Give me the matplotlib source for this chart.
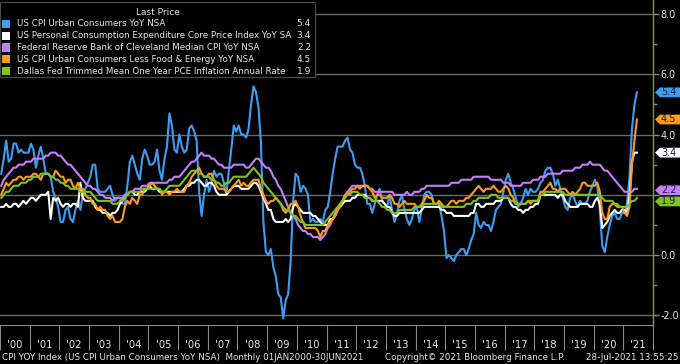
import matplotlib
matplotlib.use('Agg')
import matplotlib.pyplot as plt
import matplotlib.transforms as mtransforms
from matplotlib.patches import Rectangle, Polygon
import numpy as np
import pandas as pd

plt.rcParams['axes.unicode_minus'] = False

# ---------------- data (monthly, Jan 2000 - Jun 2021) ----------------
cpi_yoy = [
    2.7, 3.2, 3.8, 3.1, 3.2, 3.7, 3.7, 3.4, 3.5, 3.4, 3.4, 3.4,
    3.7, 3.5, 2.9, 3.3, 3.6, 3.2, 2.7, 2.7, 2.6, 2.1, 1.9, 1.6,
    1.1, 1.1, 1.5, 1.6, 1.2, 1.1, 1.5, 1.8, 1.5, 2.0, 2.2, 2.4,
    2.6, 3.0, 3.0, 2.2, 2.1, 2.1, 2.1, 2.2, 2.3, 2.0, 1.8, 1.9,
    1.9, 1.7, 1.7, 2.3, 3.1, 3.3, 3.0, 2.7, 2.5, 3.2, 3.5, 3.3,
    3.0, 3.0, 3.1, 3.5, 2.8, 2.5, 3.2, 3.6, 4.7, 4.3, 3.5, 3.4,
    4.0, 3.6, 3.4, 3.5, 4.2, 4.3, 4.1, 3.8, 2.1, 1.3, 2.0, 2.5,
    2.1, 2.4, 2.8, 2.6, 2.7, 2.7, 2.4, 2.0, 2.8, 3.5, 4.3, 4.1,
    4.3, 4.0, 4.0, 3.9, 4.2, 5.0, 5.6, 5.4, 4.9, 3.7, 1.1, 0.1,
    0.0, 0.2, -0.4, -0.7, -1.3, -1.4, -2.1, -1.5, -1.3, -0.2, 1.8, 2.7,
    2.6, 2.1, 2.3, 2.2, 2.0, 1.1, 1.2, 1.1, 1.1, 1.2, 1.1, 1.5,
    1.6, 2.1, 2.7, 3.2, 3.6, 3.6, 3.6, 3.8, 3.9, 3.5, 3.4, 3.0,
    2.9, 2.9, 2.7, 2.3, 1.7, 1.7, 1.4, 1.7, 2.0, 2.2, 1.8, 1.7,
    1.6, 2.0, 1.5, 1.1, 1.4, 1.8, 2.0, 1.5, 1.2, 1.0, 1.2, 1.5,
    1.6, 1.1, 1.5, 2.0, 2.1, 2.1, 2.0, 1.7, 1.7, 1.7, 1.3, 0.8,
    -0.1, 0.0, -0.1, -0.2, 0.0, 0.1, 0.2, 0.2, 0.0, 0.2, 0.5, 0.7,
    1.4, 1.0, 0.9, 1.1, 1.0, 1.0, 0.8, 1.1, 1.5, 1.6, 1.7, 2.1,
    2.5, 2.7, 2.4, 2.2, 1.9, 1.6, 1.7, 1.9, 2.2, 2.0, 2.2, 2.1,
    2.1, 2.2, 2.4, 2.5, 2.8, 2.9, 2.9, 2.7, 2.3, 2.5, 2.2, 1.9,
    1.6, 1.5, 1.9, 2.0, 1.8, 1.6, 1.8, 1.7, 1.7, 1.8, 2.1, 2.3,
    2.5, 2.3, 1.5, 0.3, 0.1, 0.6, 1.0, 1.3, 1.4, 1.2, 1.2, 1.4,
    1.4, 1.7, 2.6, 4.2, 5.0, 5.4,
]

core_pce_yoy = [
    1.6, 1.6, 1.7, 1.6, 1.6, 1.7, 1.7, 1.6, 1.7, 1.8, 1.7, 1.8,
    1.9, 1.9, 1.8, 1.9, 2.0, 2.0, 2.0, 2.1, 1.2, 1.9, 1.8, 1.9,
    1.7, 1.6, 1.7, 1.7, 1.6, 1.7, 1.7, 1.6, 2.4, 1.9, 1.8, 1.8,
    1.8, 1.8, 1.6, 1.5, 1.5, 1.4, 1.4, 1.4, 1.3, 1.4, 1.4, 1.5,
    1.7, 1.8, 2.0, 2.0, 2.1, 2.1, 2.0, 2.0, 2.1, 2.1, 2.1, 2.2,
    2.3, 2.2, 2.2, 2.2, 2.1, 2.1, 2.1, 2.1, 2.1, 2.1, 2.1, 2.1,
    2.1, 2.1, 2.2, 2.3, 2.3, 2.4, 2.4, 2.5, 2.5, 2.4, 2.3, 2.3,
    2.4, 2.4, 2.3, 2.1, 2.0, 2.0, 2.0, 2.0, 2.1, 2.2, 2.3, 2.3,
    2.3, 2.2, 2.2, 2.2, 2.2, 2.3, 2.4, 2.4, 2.3, 2.1, 1.9, 1.7,
    1.5, 1.5, 1.2, 1.1, 1.1, 1.1, 1.1, 1.2, 1.1, 1.2, 1.6, 1.7,
    1.6, 1.5, 1.4, 1.4, 1.4, 1.4, 1.3, 1.3, 1.2, 1.1, 1.0, 1.0,
    1.0, 1.2, 1.2, 1.3, 1.5, 1.6, 1.7, 1.8, 1.8, 1.8, 1.9, 1.9,
    2.0, 2.0, 2.0, 2.0, 1.9, 1.9, 1.8, 1.8, 1.8, 1.8, 1.8, 1.7,
    1.6, 1.6, 1.4, 1.3, 1.3, 1.4, 1.4, 1.4, 1.4, 1.4, 1.4, 1.4,
    1.4, 1.4, 1.5, 1.6, 1.6, 1.6, 1.6, 1.6, 1.6, 1.6, 1.5, 1.5,
    1.4, 1.4, 1.4, 1.3, 1.3, 1.3, 1.3, 1.3, 1.3, 1.3, 1.4, 1.4,
    1.7, 1.7, 1.6, 1.6, 1.7, 1.7, 1.7, 1.7, 1.8, 1.8, 1.8, 1.9,
    1.9, 1.9, 1.7, 1.6, 1.6, 1.5, 1.5, 1.4, 1.5, 1.5, 1.6, 1.6,
    1.7, 1.7, 2.0, 2.0, 2.0, 2.0, 2.0, 2.0, 2.0, 1.9, 2.0, 2.0,
    1.8, 1.7, 1.6, 1.6, 1.6, 1.6, 1.7, 1.7, 1.7, 1.7, 1.6, 1.6,
    1.8, 1.9, 1.7, 0.9, 1.0, 1.1, 1.3, 1.4, 1.5, 1.4, 1.4, 1.5,
    1.5, 1.4, 2.0, 3.1, 3.4, 3.4,
]

median_cpi_yoy = [
    2.3, 2.5, 2.6, 2.7, 2.8, 2.9, 2.9, 3.0, 3.0, 3.0, 3.1, 3.1,
    3.1, 3.2, 3.2, 3.2, 3.2, 3.2, 3.3, 3.3, 3.4, 3.4, 3.4, 3.3,
    3.3, 3.2, 3.1, 3.0, 3.0, 2.9, 2.8, 2.7, 2.6, 2.5, 2.4, 2.3,
    2.3, 2.2, 2.2, 2.1, 2.0, 2.0, 1.9, 1.9, 1.9, 1.8, 1.9, 1.9,
    1.9, 1.9, 2.0, 2.0, 2.1, 2.1, 2.2, 2.2, 2.2, 2.3, 2.3, 2.3,
    2.4, 2.4, 2.4, 2.4, 2.4, 2.4, 2.4, 2.4, 2.5, 2.5, 2.6, 2.6,
    2.6, 2.7, 2.8, 2.9, 3.0, 3.1, 3.1, 3.2, 3.3, 3.4, 3.3, 3.3,
    3.3, 3.2, 3.2, 3.1, 3.0, 3.0, 2.9, 2.9, 2.9, 2.9, 3.0, 3.0,
    3.0, 3.0, 3.0, 2.9, 2.9, 3.0, 3.1, 3.2, 3.2, 3.1, 3.0, 2.9,
    2.9, 2.8, 2.6, 2.5, 2.3, 2.2, 2.0, 1.8, 1.6, 1.4, 1.3, 1.2,
    1.0, 0.9, 0.8, 0.8, 0.7, 0.7, 0.6, 0.6, 0.6, 0.5, 0.6, 0.7,
    0.9, 1.0, 1.2, 1.4, 1.5, 1.7, 1.8, 2.0, 2.1, 2.2, 2.3, 2.3,
    2.3, 2.3, 2.3, 2.3, 2.3, 2.2, 2.2, 2.1, 2.1, 2.1, 2.1, 2.1,
    2.1, 2.1, 2.1, 2.0, 2.0, 2.0, 2.0, 2.0, 2.1, 2.0, 2.0, 2.1,
    2.1, 2.1, 2.2, 2.2, 2.3, 2.3, 2.3, 2.3, 2.3, 2.3, 2.3, 2.3,
    2.3, 2.3, 2.4, 2.4, 2.4, 2.4, 2.5, 2.5, 2.5, 2.5, 2.5, 2.6,
    2.6, 2.6, 2.6, 2.6, 2.6, 2.6, 2.5, 2.5, 2.5, 2.5, 2.5, 2.4,
    2.4, 2.4, 2.3, 2.3, 2.3, 2.3, 2.3, 2.4, 2.4, 2.4, 2.4, 2.5,
    2.5, 2.5, 2.6, 2.6, 2.6, 2.7, 2.7, 2.7, 2.7, 2.7, 2.7, 2.8,
    2.8, 2.8, 2.8, 2.8, 2.9, 2.9, 2.9, 3.0, 3.0, 3.0, 3.1, 3.0,
    3.0, 3.0, 3.0, 2.9, 2.8, 2.8, 2.7, 2.6, 2.5, 2.4, 2.3, 2.2,
    2.1, 2.1, 2.1, 2.1, 2.2, 2.2,
]

core_cpi_yoy = [
    2.0, 2.2, 2.4, 2.3, 2.4, 2.5, 2.5, 2.6, 2.6, 2.5, 2.6, 2.6,
    2.6, 2.7, 2.7, 2.6, 2.5, 2.7, 2.7, 2.7, 2.6, 2.6, 2.8, 2.7,
    2.6, 2.6, 2.4, 2.5, 2.5, 2.3, 2.2, 2.4, 2.2, 2.2, 2.0, 1.9,
    1.9, 1.7, 1.7, 1.5, 1.6, 1.5, 1.5, 1.3, 1.2, 1.3, 1.1, 1.1,
    1.1, 1.2, 1.6, 1.8, 1.7, 1.9, 1.8, 1.7, 2.0, 2.0, 2.2, 2.2,
    2.3, 2.4, 2.3, 2.2, 2.2, 2.0, 2.1, 2.1, 2.0, 2.1, 2.1, 2.2,
    2.1, 2.1, 2.1, 2.3, 2.4, 2.6, 2.7, 2.8, 2.9, 2.7, 2.6, 2.6,
    2.7, 2.7, 2.5, 2.3, 2.2, 2.2, 2.2, 2.1, 2.1, 2.2, 2.3, 2.4,
    2.5, 2.3, 2.4, 2.3, 2.3, 2.4, 2.5, 2.5, 2.5, 2.2, 2.0, 1.8,
    1.7, 1.8, 1.8, 1.9, 1.8, 1.7, 1.5, 1.4, 1.5, 1.7, 1.7, 1.8,
    1.6, 1.3, 1.1, 0.9, 0.9, 0.9, 0.9, 0.9, 0.8, 0.6, 0.8, 0.8,
    1.0, 1.1, 1.2, 1.3, 1.5, 1.6, 1.8, 2.0, 2.0, 2.1, 2.2, 2.2,
    2.3, 2.2, 2.3, 2.3, 2.3, 2.2, 2.1, 1.9, 2.0, 2.0, 1.9, 1.9,
    1.9, 2.0, 1.9, 1.7, 1.7, 1.6, 1.7, 1.8, 1.7, 1.7, 1.7, 1.7,
    1.6, 1.6, 1.7, 1.8, 2.0, 1.9, 1.9, 1.7, 1.7, 1.8, 1.7, 1.6,
    1.6, 1.7, 1.8, 1.8, 1.7, 1.8, 1.8, 1.8, 1.9, 1.9, 2.0, 2.1,
    2.2, 2.3, 2.2, 2.1, 2.2, 2.2, 2.2, 2.3, 2.2, 2.1, 2.1, 2.2,
    2.3, 2.2, 2.0, 1.9, 1.7, 1.7, 1.7, 1.7, 1.7, 1.8, 1.7, 1.8,
    1.8, 1.8, 2.1, 2.1, 2.2, 2.3, 2.4, 2.2, 2.2, 2.1, 2.2, 2.2,
    2.2, 2.1, 2.0, 2.1, 2.0, 2.1, 2.2, 2.4, 2.4, 2.3, 2.3, 2.3,
    2.3, 2.4, 2.1, 1.4, 1.2, 1.2, 1.6, 1.7, 1.7, 1.6, 1.6, 1.6,
    1.4, 1.3, 1.6, 3.0, 3.8, 4.5,
]

trimmed_pce_yoy = [
    1.9, 2.0, 2.1, 2.1, 2.2, 2.3, 2.3, 2.3, 2.4, 2.4, 2.4, 2.5,
    2.5, 2.6, 2.6, 2.6, 2.7, 2.7, 2.7, 2.7, 2.6, 2.6, 2.5, 2.5,
    2.4, 2.4, 2.3, 2.3, 2.2, 2.2, 2.2, 2.2, 2.1, 2.1, 2.1, 2.1,
    2.1, 2.0, 1.9, 1.8, 1.8, 1.8, 1.8, 1.8, 1.8, 1.7, 1.7, 1.7,
    1.8, 1.8, 1.9, 2.0, 2.1, 2.1, 2.1, 2.1, 2.1, 2.2, 2.2, 2.2,
    2.2, 2.2, 2.2, 2.2, 2.2, 2.1, 2.1, 2.2, 2.3, 2.3, 2.3, 2.3,
    2.3, 2.4, 2.5, 2.6, 2.7, 2.8, 2.8, 2.8, 2.7, 2.7, 2.6, 2.6,
    2.6, 2.5, 2.5, 2.4, 2.4, 2.3, 2.3, 2.4, 2.4, 2.5, 2.6, 2.6,
    2.6, 2.6, 2.6, 2.6, 2.7, 2.8, 2.9, 2.8, 2.7, 2.6, 2.4, 2.3,
    2.2, 2.1, 2.0, 1.9, 1.8, 1.7, 1.6, 1.5, 1.5, 1.4, 1.3, 1.3,
    1.2, 1.1, 1.1, 1.0, 1.0, 1.0, 1.0, 1.0, 1.0, 1.0, 1.0, 1.1,
    1.2, 1.3, 1.4, 1.5, 1.6, 1.7, 1.8, 1.9, 2.0, 2.0, 2.1, 2.1,
    2.1, 2.0, 2.0, 1.9, 1.9, 1.9, 1.8, 1.8, 1.8, 1.7, 1.6, 1.6,
    1.5, 1.5, 1.4, 1.4, 1.4, 1.5, 1.5, 1.5, 1.5, 1.5, 1.5, 1.6,
    1.6, 1.6, 1.6, 1.7, 1.7, 1.7, 1.7, 1.7, 1.7, 1.7, 1.6, 1.6,
    1.6, 1.6, 1.6, 1.6, 1.6, 1.6, 1.6, 1.6, 1.7, 1.7, 1.7, 1.8,
    1.8, 1.9, 1.9, 1.9, 1.9, 1.9, 2.0, 2.0, 2.0, 1.9, 1.9, 1.9,
    1.9, 1.9, 1.8, 1.8, 1.7, 1.7, 1.7, 1.7, 1.7, 1.8, 1.8, 1.8,
    1.8, 1.8, 2.0, 2.0, 2.1, 2.1, 2.1, 2.1, 2.1, 2.1, 2.1, 2.1,
    2.0, 2.0, 2.0, 2.0, 2.0, 2.0, 2.0, 2.0, 2.0, 2.0, 2.0, 2.0,
    2.0, 2.0, 2.0, 1.9, 1.8, 1.8, 1.8, 1.8, 1.7, 1.7, 1.6, 1.6,
    1.6, 1.6, 1.7, 1.8, 1.8, 1.9,
]

series_names = [
    "US CPI Urban Consumers YoY NSA",
    "US Personal Consumption Expenditure Core Price Index YoY SA",
    "Federal Reserve Bank of Cleveland Median CPI YoY NSA",
    "US CPI Urban Consumers Less Food & Energy YoY NSA",
    "Dallas Fed Trimmed Mean One Year PCE Inflation Annual Rate",
]
series_values = [cpi_yoy, core_pce_yoy, median_cpi_yoy, core_cpi_yoy, trimmed_pce_yoy]
last_price_labels = ["5.4", "3.4", "2.2", "4.5", "1.9"]
year_labels = ["'%02d" % (y % 100) for y in range(2000, 2022)]
y_ticks = [8.0, 6.0, 4.0, 2.0, 0.0, -2.0]
footer_left = "CPI YOY Index (US CPI Urban Consumers YoY NSA)  Monthly 01JAN2000-30JUN2021"
footer_mid = "Copyright\u00a9 2021 Bloomberg Finance L.P."
footer_right = "28-Jul-2021 13:55:25"

# ---------------- styling ----------------
colors = ["#3d9df3", "#ffffff", "#c77dff", "#ff9a1a", "#7dc41f"]
axis_green = "#72a434"
grid_col = "#6a6a6a"
text_col = "#e6e6e6"
FONT = "DejaVu Sans"

W, H = 680, 364
fig = plt.figure(figsize=(W / 100, H / 100), dpi=100, facecolor="black")
ax_left, ax_right, ax_top, ax_bot = 0, 653, 0, 325  # pixel edges
ax = fig.add_axes([ax_left / W, 1 - ax_bot / H, (ax_right - ax_left) / W, (ax_bot - ax_top) / H])
ax.set_facecolor("black")

dates = pd.date_range("2000-01-01", periods=len(cpi_yoy), freq="MS")
xdec = dates.year + (dates.month - 0.5) / 12.0

for vals, col in zip(series_values, colors):
    ax.plot(xdec, vals, color=col, lw=1.5, solid_joinstyle="round")

ymin, ymax = -2.32, 8.465
ax.set_xlim(2000, 2022)
ax.set_ylim(ymin, ymax)

for yv in y_ticks:
    ax.axhline(yv, color=grid_col, lw=1.0, zorder=0)

# spines
for s in ["left", "top"]:
    ax.spines[s].set_visible(False)
ax.spines["right"].set_color(axis_green)
ax.spines["right"].set_linewidth(1.0)
ax.spines["bottom"].set_color("#8a8a8a")
ax.spines["bottom"].set_linewidth(0.8)

# y axis on right
ax.yaxis.tick_right()
ax.set_yticks(y_ticks)
ax.set_yticklabels(["" if v == 2.0 else "%.1f" % v for v in y_ticks])
ax.set_yticks(np.arange(-1, 8, 2), minor=True)
ax.tick_params(axis="y", which="major", colors=axis_green, length=4, width=1, pad=1.5,
               labelcolor=text_col, labelsize=6.9)
ax.tick_params(axis="y", which="minor", colors=axis_green, length=3, width=1)
for lab in ax.get_yticklabels():
    lab.set_family(FONT)

# x axis: separators at year boundaries, labels centred in each year
years = np.arange(2000, 2023)
ax.set_xticks(years)
ax.set_xticklabels([])
ax.set_xticks(years[:-1] + 0.5, minor=True)
ax.set_xticklabels(year_labels, minor=True)
ax.tick_params(axis="x", which="major", colors="#8a8a8a", length=18, width=0.8, direction="out")
ax.tick_params(axis="x", which="minor", length=0, pad=11, labelcolor=text_col, labelsize=7.2)
for lab in ax.get_xticklabels(minor=True):
    lab.set_family(FONT)

# ---------------- legend box ----------------
def fx(px):
    return px / W

def fy(py):
    return 1 - py / H

leg_x0, leg_x1, leg_y0, leg_y1 = 0, 315, 2, 77
fig.patches.append(Rectangle((fx(leg_x0), fy(leg_y1)), fx(leg_x1 - leg_x0), (leg_y1 - leg_y0) / H,
                             transform=fig.transFigure, facecolor="black", edgecolor="#4a4a4a",
                             lw=0.8, zorder=5))
fig.text(fx(158), fy(12.5), "Last Price", color=text_col, fontsize=6.5, family=FONT,
         ha="center", va="center", zorder=6)
row_y0, row_dy = 24, 11.75
for i, (name, col, lp) in enumerate(zip(series_names, colors, last_price_labels)):
    yy = row_y0 + i * row_dy
    fig.patches.append(Rectangle((fx(2), fy(yy + 4)), fx(8), 8 / H, transform=fig.transFigure,
                                 facecolor=col, edgecolor="none", zorder=6))
    fig.text(fx(17), fy(yy), name, color=text_col, fontsize=6.3, family=FONT,
             ha="left", va="center", zorder=6)
    fig.text(fx(311), fy(yy), lp, color=text_col, fontsize=6.5, family=FONT,
             ha="right", va="center", zorder=6)

# ---------------- last-value tags on right axis ----------------
bt = mtransforms.blended_transform_factory(fig.transFigure, ax.transData)
px_per_unit = (ax_bot - ax_top) / (ymax - ymin)
hh = 4.9 / px_per_unit
tag_offsets = {"2.2": -0.05, "1.9": -0.12}
for col, lp in zip(colors, last_price_labels):
    v = float(lp) + tag_offsets.get(lp, 0.0)
    pts = [(fx(655), v), (fx(660), v + hh), (fx(680), v + hh), (fx(680), v - hh), (fx(660), v - hh)]
    fig.patches.append(Polygon(pts, closed=True, transform=bt, facecolor=col, edgecolor="none",
                               clip_on=False, zorder=10))
    fig.text(fx(661), v, lp, transform=bt, color="#15203a", fontsize=7.0, family=FONT,
             ha="left", va="center", zorder=11)

# ---------------- footer ----------------
fig.text(fx(2), fy(357), footer_left, color=text_col, fontsize=6.3, family=FONT, ha="left", va="center")
fig.text(fx(385), fy(357), footer_mid, color=text_col, fontsize=6.3, family=FONT, ha="left", va="center")
fig.text(fx(679), fy(357), footer_right, color=text_col, fontsize=6.3, family=FONT, ha="right", va="center")

fig.savefig("out.png", dpi=100, facecolor="black")
